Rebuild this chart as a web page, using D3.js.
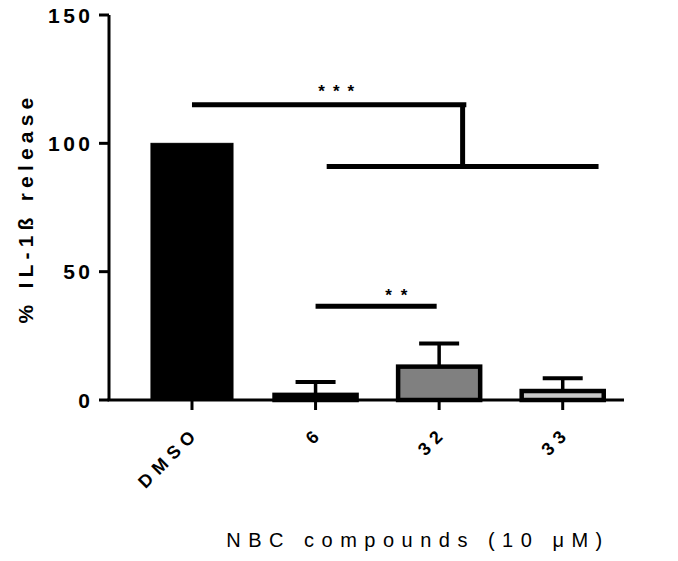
<!DOCTYPE html>
<html><head><meta charset="utf-8">
<script src="https://cdn.jsdelivr.net/npm/d3@7"></script>
<style>body{margin:0;background:#fff}</style>
</head><body>
<svg id="c" width="678" height="561"></svg>
<script>
const categories = ["DMSO", "6", "32", "33"];
const means = [100, 2, 13, 3.5];
const errors = [0, 5, 9, 5];
const fills = ["#000000", "#000000", "#808080", "#c8c8c8"];
const yTicks = [0, 50, 100, 150];
// significance brackets
const sigLines = [
  {from: "DMSO", fo: 0.0, to: "32", too: 0.22, y: 115},
  {from: "6", fo: 0.09, to: "33", too: 0.29, y: 91},
  {from: "6", fo: 0.0, to: "32", too: -0.02, y: 36.5}
];
const sigLabels = [
  {cat: "6", off: 0.2, y: 118, text: "***", ls: 8},
  {cat: "6", off: 0.69, y: 38.6, text: "**", ls: 9}
];
const sigVertical = {cat: "32", off: 0.19, y0: 115, y1: 91};

const FONT = "Liberation Sans, Arial, sans-serif";
const svg = d3.select("#c");
const x0 = 109, x1 = 624;
const x = d3.scaleBand().domain(categories).range([130.2, 624.5]).paddingInner(0.336).paddingOuter(0.168);
const y = d3.scaleLinear().domain([0, 150]).range([400, 15]);
const bw = x.bandwidth();
const cx = c => x(c) + bw / 2;
const step = x.step();

// bars
svg.selectAll("rect.bar").data(categories).join("rect")
  .attr("x", d => x(d)).attr("width", bw)
  .attr("y", (d, i) => y(means[i])).attr("height", (d, i) => y(0) - y(means[i]))
  .attr("fill", (d, i) => fills[i]).attr("stroke", "#000").attr("stroke-width", (d,i)=> i===0?1:4.5);

// error bars
categories.forEach((c, i) => {
  if (!errors[i]) return;
  const top = y(means[i] + errors[i]);
  svg.append("line").attr("x1", cx(c)).attr("x2", cx(c)).attr("y1", y(means[i])).attr("y2", top)
    .attr("stroke", "#000").attr("stroke-width", 3.5);
  svg.append("line").attr("x1", cx(c) - 20).attr("x2", cx(c) + 20).attr("y1", top).attr("y2", top)
    .attr("stroke", "#000").attr("stroke-width", 4);
});

// axes
svg.append("line").attr("x1", x0).attr("x2", x0).attr("y1", y(150)).attr("y2", y(0))
  .attr("stroke", "#000").attr("stroke-width", 3);
svg.append("line").attr("x1", x0 - 1.5).attr("x2", x1).attr("y1", y(0)).attr("y2", y(0))
  .attr("stroke", "#000").attr("stroke-width", 3);
yTicks.forEach(t => {
  svg.append("line").attr("x1", x0 - 10).attr("x2", x0).attr("y1", y(t)).attr("y2", y(t))
    .attr("stroke", "#000").attr("stroke-width", 3);
  svg.append("text").attr("x", 93.5).attr("y", y(t)).attr("dy", "0.36em")
    .attr("text-anchor", "end").attr("font-family", FONT)
    .attr("font-weight", "bold").attr("font-size", 21).attr("letter-spacing", "3.5px").text(t);
});
categories.forEach(c => {
  svg.append("line").attr("x1", cx(c)).attr("x2", cx(c)).attr("y1", y(0)).attr("y2", y(0) + 10)
    .attr("stroke", "#000").attr("stroke-width", 3);
  svg.append("text").attr("transform", `translate(${cx(c) + 8.7},${y(0) + 34}) rotate(-45)`)
    .attr("text-anchor", "end").attr("font-family", FONT)
    .attr("font-weight", "bold").attr("font-size", 18).attr("letter-spacing", "6px").text(c);
});

// axis titles
svg.append("text").attr("transform", `translate(33,208) rotate(-90)`)
  .attr("text-anchor", "middle").attr("font-family", FONT)
  .attr("font-weight", "bold").attr("font-size", 21).attr("letter-spacing", "5.2px").text("% IL-1ß release");
svg.append("text").attr("x", 418).attr("y", 547)
  .attr("text-anchor", "middle").attr("font-family", FONT)
  .attr("font-size", 20).attr("letter-spacing", "7.5px").text("NBC compounds (10 μM)");

// significance
sigLines.forEach(s => {
  svg.append("line").attr("x1", cx(s.from) + s.fo * step).attr("x2", cx(s.to) + s.too * step)
    .attr("y1", y(s.y)).attr("y2", y(s.y)).attr("stroke", "#000").attr("stroke-width", 5);
});
svg.append("line").attr("x1", cx(sigVertical.cat) + sigVertical.off * step)
  .attr("x2", cx(sigVertical.cat) + sigVertical.off * step)
  .attr("y1", y(sigVertical.y0)).attr("y2", y(sigVertical.y1)).attr("stroke", "#000").attr("stroke-width", 5);
sigLabels.forEach(s => {
  svg.append("text").attr("x", cx(s.cat) + s.off * step).attr("y", y(s.y))
    .attr("text-anchor", "middle").attr("font-family", FONT)
    .attr("font-weight", "bold").attr("font-size", 17).attr("letter-spacing", s.ls + "px").text(s.text);
});
</script>
</body></html>
